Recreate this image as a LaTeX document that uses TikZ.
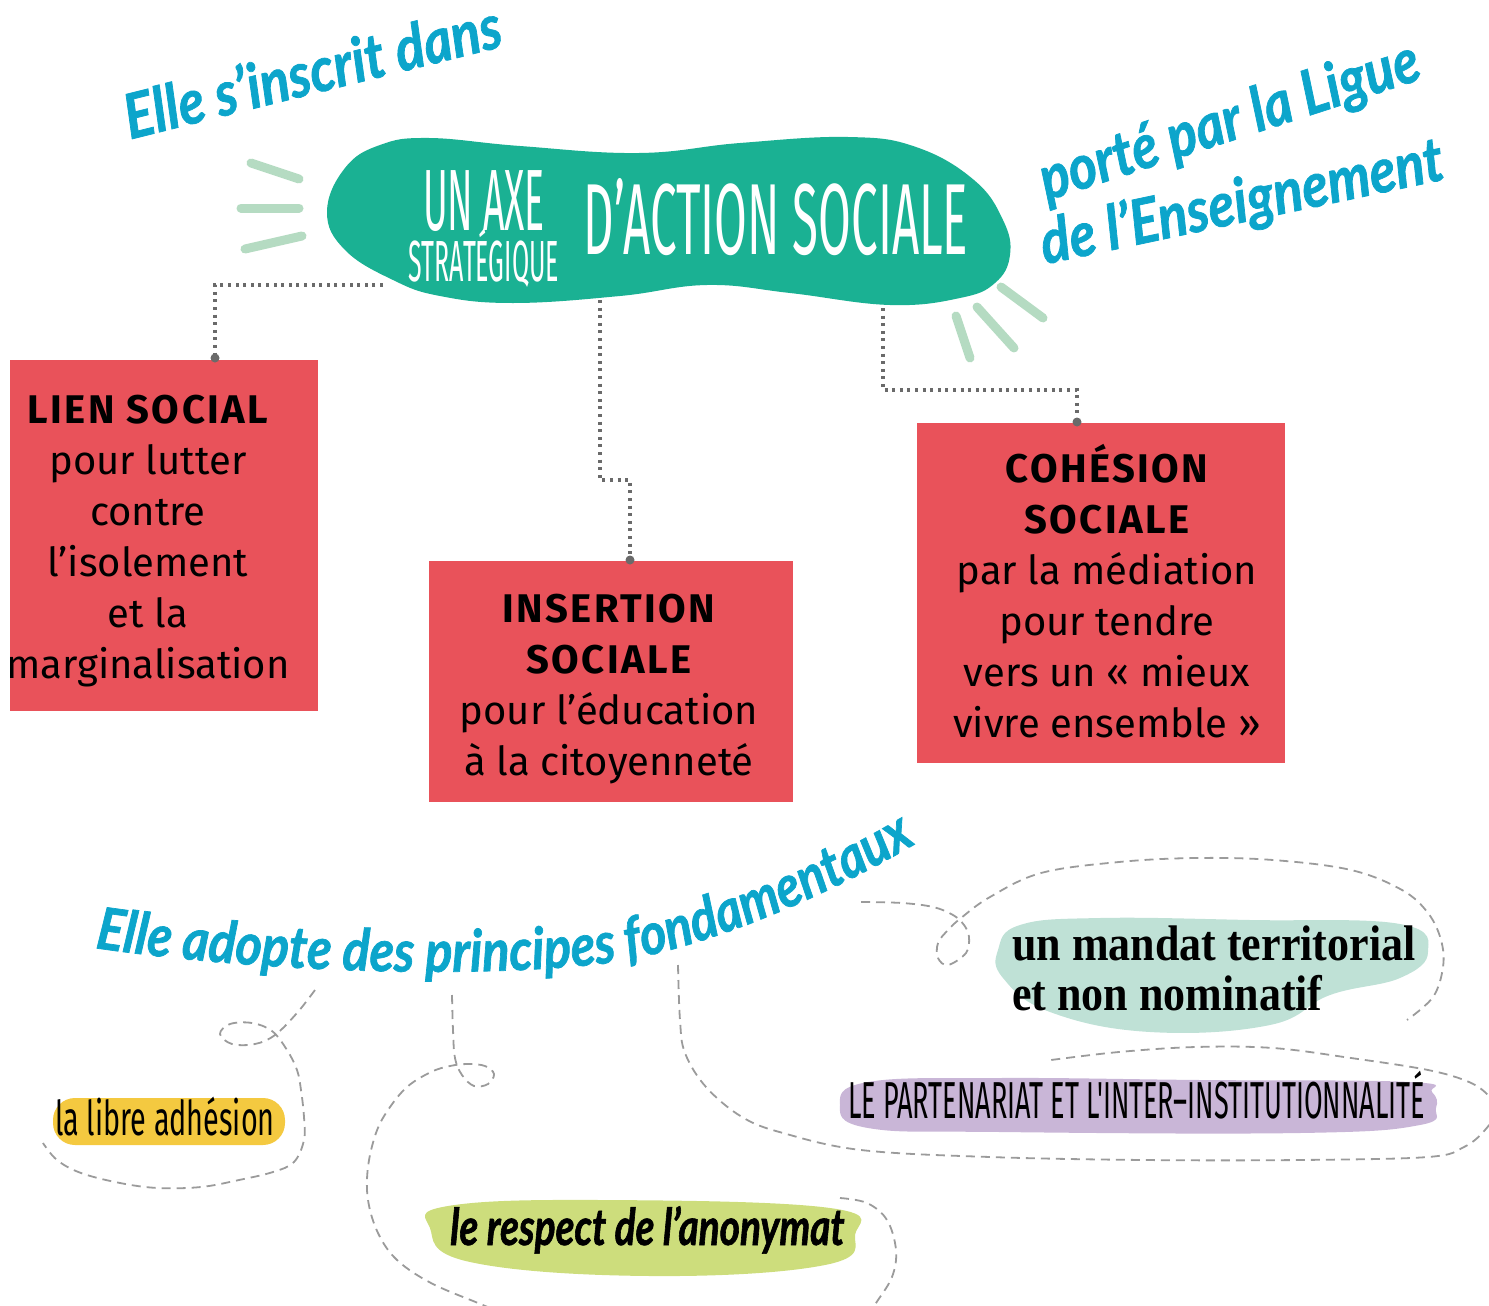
\documentclass[tikz,border=0pt]{standalone}
\usepackage{fontspec}
\usetikzlibrary{decorations.text}
\newfontfamily\boxfont[BoldFeatures={LetterSpace=6}]{Fira Sans}
\newfontfamily\condfont[FakeStretch=0.43]{Fira Sans}
\newfontfamily\condwide[FakeStretch=0.47]{Fira Sans}
\newfontfamily\condpart[FakeStretch=0.52]{Fira Sans}
\newfontfamily\thinfont[FakeStretch=0.6]{Fira Sans}
\newfontfamily\scriptf[FakeStretch=0.87, FakeBold=1.2]{Lato}
\newfontfamily\scriptn[FakeStretch=0.76, FakeBold=1.2]{Lato}
\newfontfamily\serifb[FakeStretch=0.88]{Liberation Serif}
\definecolor{tealc}{HTML}{1AB193}
\definecolor{redc}{HTML}{E9525A}
\definecolor{bluec}{HTML}{0CA5CB}
\definecolor{leafc}{HTML}{B5DBC2}
\definecolor{dotc}{HTML}{6A6A6A}
\definecolor{dashc}{HTML}{9B9B9B}
\definecolor{yelc}{HTML}{F4C940}
\definecolor{limec}{HTML}{CDDD7C}
\definecolor{mintc}{HTML}{BFE1D6}
\definecolor{purc}{HTML}{C9B6D7}
\tikzset{
  redbox/.style={fill=redc, draw=none, inner sep=0, minimum width=#1},
  leaf/.style={draw=leafc, line width=9, line cap=round},
  dotline/.style={draw=dotc, line width=3.2, dash pattern=on 3 off 4.6},
  dashcurve/.style={draw=dashc, line width=1.8, dash pattern=on 9 off 6},
  boxtxt/.style={inner sep=0, anchor=base, font=\boxfont\fontsize{40}{51}\selectfont},
  bluetxt/.style={inner sep=0, text=bluec, font=\scriptf\bfseries\itshape\fontsize{62}{62}\selectfont},
  whitetxt/.style={inner sep=0, anchor=base, text=white},
}
\begin{document}
\begin{tikzpicture}[x=1pt,y=-1pt]
\useasboundingbox (0,0) rectangle (1489,1306);

% central blob
\fill[tealc] plot[smooth cycle, tension=0.7] coordinates {(327,212) (345,168) (380,145) (429,138) (520,146) (639,153) (740,143) (848,137) (916,147) (974,180) (1003,220) (1010,255) (995,283) (960,298) (890,305) (790,293) (707,285) (620,296) (513,303) (440,296) (393,280) (345,250)};
\node[whitetxt] (t1) at (484,230) {\condfont\fontsize{87}{87}\selectfont UN AXE};
\node[whitetxt] (t2) at (484,281) {\condfont\fontsize{58}{58}\selectfont STRATÉGIQUE};
\node[whitetxt] (t3) at (776,254) {\condwide\fontsize{101}{101}\selectfont D’ACTION SOCIALE};

% leaves
\draw[leaf] (251,163) -- (299,179);
\draw[leaf] (241,208) -- (299,208);
\draw[leaf] (245,249) -- (302,236);
\draw[leaf] (1001,287) -- (1043,318);
\draw[leaf] (977,307) -- (1014,348);
\draw[leaf] (956,316) -- (970,358);

% boxes
\node[redbox=308, minimum height=351] (box1) at (164,535.5) {};
\node[redbox=364, minimum height=241] (box2) at (611,681.5) {};
\node[redbox=368, minimum height=340] (box3) at (1101,593) {};

\begin{scope}
\clip (10,360) rectangle (318,711);
\node[boxtxt] (b1t) at (148,423) {\begin{tabular}[t]{@{}c@{}}\bfseries LIEN SOCIAL\\ pour lutter\\ contre\\ l’isolement\\ et la\\ marginalisation\end{tabular}};
\end{scope}
\node[boxtxt] (b2t) at (609,622) {\begin{tabular}[t]{@{}c@{}}\bfseries INSERTION\\ \bfseries SOCIALE\\ pour l’éducation\\ à la citoyenneté\end{tabular}};
\node[boxtxt] (b3t) at (1107,482) {\begin{tabular}[t]{@{}c@{}}\bfseries COHÉSION\\ \bfseries SOCIALE\\ par la médiation\\ pour tendre\\ vers un « mieux\\ vivre ensemble »\end{tabular}};

% dotted connectors
\coordinate (c1s) at (383,285); \coordinate (c1e) at (215,358);
\coordinate (c2s) at (600,300); \coordinate (c2k) at (630,480); \coordinate (c2e) at (630,560);
\coordinate (c3s) at (883,308); \coordinate (c3k) at (1077,390); \coordinate (c3e) at (1077,422);
\draw[dotline] (c1s) -| (c1e);
\draw[dotline] (c2s) |- (c2k) -- (c2e);
\draw[dotline] (c3s) |- (c3k) -- (c3e);
\fill[dotc] (c1e) circle (4.5) (c2e) circle (4.5) (c3e) circle (4.5);

% blue script
\node[bluetxt, rotate=14] (s1) at (312,70) {Elle s’inscrit dans};
\node[bluetxt, rotate=18] (s2) at (1230,123) {porté par la Ligue};
\node[bluetxt, rotate=12] (s3) at (1242,204) {de l’Enseignement};
\path[decorate, decoration={text along path, text color=bluec, text align=left,
  text={|\scriptf\bfseries\itshape\fontsize{58}{58}\selectfont|Elle adopte des principes fondamentaux}}]
  (95,948) .. controls (280,975) and (500,978) .. (615,962) .. controls (720,945) and (850,885) .. (935,832);

% highlights
\fill[yelc, rounded corners=22] (53,1098) rectangle (285,1145);
\fill[limec] plot[smooth cycle, tension=0.7] coordinates {(430,1228) (448,1206) (600,1200) (830,1208) (855,1235) (825,1265) (650,1276) (470,1262)};
\fill[mintc] plot[smooth cycle, tension=0.7] coordinates {(998,950) (1020,925) (1100,918) (1250,920) (1400,924) (1428,952) (1400,978) (1330,995) (1270,1025) (1150,1032) (1050,1012) (1003,978)};
\fill[purc] plot[smooth cycle, tension=0.7] coordinates {(840,1105) (868,1082) (1000,1078) (1200,1080) (1410,1082) (1432,1092) (1436,1108) (1420,1125) (1300,1133) (1000,1132) (868,1128)};

\node[inner sep=0, anchor=base west] (h1) at (55,1135) {\thinfont\fontsize{48}{48}\selectfont la libre adhésion};
\node[inner sep=0, anchor=base west] (h2) at (450,1245) {\scriptn\bfseries\itshape\fontsize{51}{51}\selectfont le respect de l’anonymat};
\node[inner sep=0, anchor=base west] (h3) at (1012,960) {\serifb\bfseries\fontsize{50}{50}\selectfont un mandat territorial};
\node[inner sep=0, anchor=base west] (h4) at (1012,1010) {\serifb\bfseries\fontsize{50}{50}\selectfont et non nominatif};
\node[inner sep=0, anchor=base west] (h5) at (848,1118) {\condpart\fontsize{52}{52}\selectfont LE PARTENARIAT ET L'INTER–INSTITUTIONNALITÉ};

% dashed curves
\draw[dashcurve] plot[smooth, tension=0.6] coordinates {(315,990) (297,1013) (275,1035) (255,1044) (232,1044) (220,1034) (230,1024) (252,1023) (272,1031) (287,1050) (297,1070) (301,1090) (304,1117) (304,1140) (294,1162) (273,1172) (239,1180) (201,1187) (158,1188) (120,1183) (81,1173) (57,1160) (43,1143)};
\draw[dashcurve] plot[smooth, tension=0.6] coordinates {(452,995) (453,1030) (455,1058) (462,1075) (474,1086) (488,1084) (494,1074) (485,1066) (468,1064) (450,1066) (431,1072) (407,1087) (388,1110) (376,1133) (368,1167) (368,1200) (378,1233) (397,1260) (431,1283) (478,1303) (500,1312)};
\draw[dashcurve] plot[smooth, tension=0.6] coordinates {(840,1198) (867,1203) (887,1220) (896,1250) (892,1277) (876,1303) (870,1312)};
\draw[dashcurve] plot[smooth, tension=0.6] coordinates {(678,965) (680,1020) (685,1053) (706,1087) (742,1117) (783,1133) (861,1150) (990,1157) (1144,1160) (1299,1160) (1428,1157) (1464,1147) (1485,1130) (1497,1110) (1489,1096) (1469,1082) (1428,1070) (1351,1058) (1273,1048) (1196,1047) (1119,1052) (1051,1060)};
\draw[dashcurve] plot[smooth, tension=0.6] coordinates {(861,902) (902,903) (933,907) (953,915) (964,925) (969,937) (966,953) (948,965) (938,958) (938,943) (948,930) (961,918) (990,897) (1041,873) (1119,862) (1196,858) (1273,860) (1351,870) (1402,890) (1428,913) (1441,940) (1443,967) (1433,997) (1407,1020)};
\end{tikzpicture}
\end{document}
